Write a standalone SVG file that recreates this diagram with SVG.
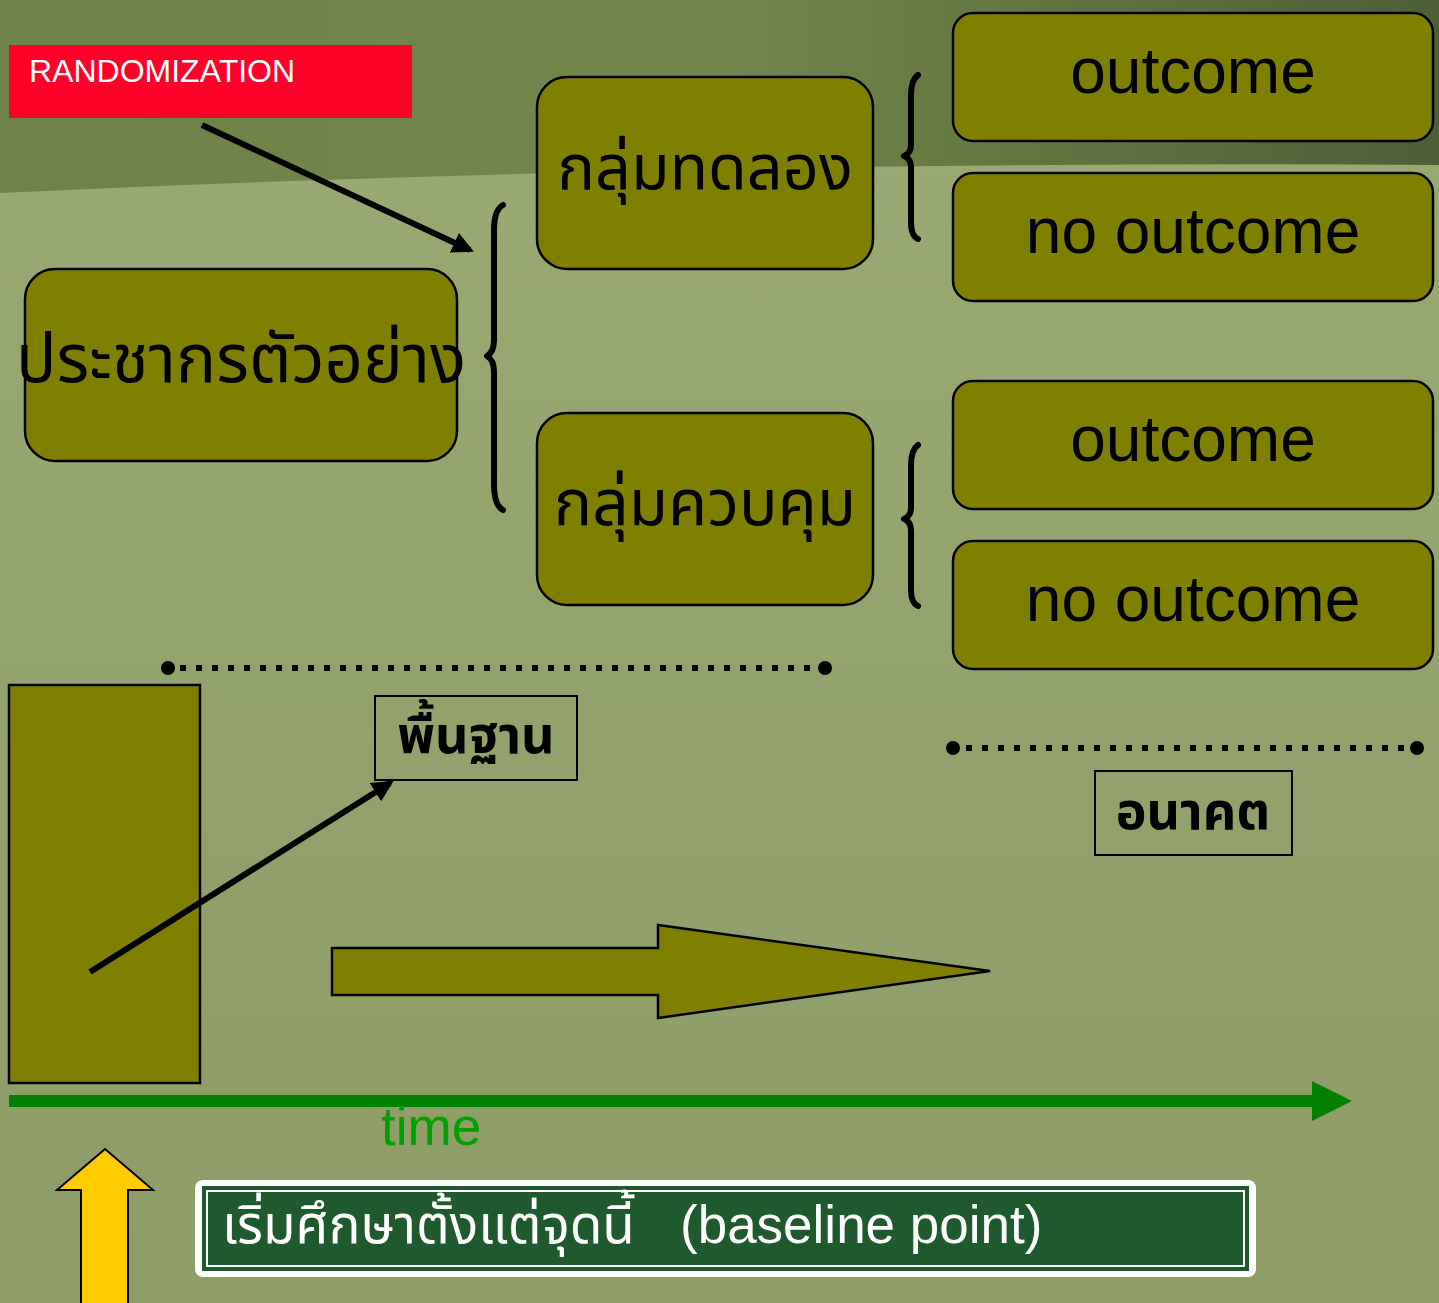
<svg xmlns="http://www.w3.org/2000/svg" width="1439" height="1303" viewBox="0 0 1439 1303">
<defs>
<linearGradient id="topg" x1="0" y1="0" x2="1" y2="0">
<stop offset="0" stop-color="#6f8248"/>
<stop offset="0.5" stop-color="#72874a"/>
<stop offset="1" stop-color="#4d5f35"/>
</linearGradient>
<linearGradient id="botg" x1="0" y1="0" x2="0" y2="1">
<stop offset="0" stop-color="#9aab72"/>
<stop offset="1" stop-color="#8e9c68"/>
</linearGradient>
<marker id="ah" viewBox="0 0 10 10" refX="8" refY="5" markerWidth="3.6" markerHeight="3.6" orient="auto" markerUnits="strokeWidth">
<path d="M0,0 L10,5 L0,10 z" fill="#000"/>
</marker>
<style>
.node{fill:#808000;stroke:#000;stroke-width:2.5}
.th{font-family:"Noto Sans Thai","Tahoma","Liberation Sans","DejaVu Sans",sans-serif;fill:#000}
.en{font-family:"Liberation Sans",Arial,sans-serif;fill:#000}
.brace{fill:none;stroke:#000;stroke-width:6;stroke-linecap:round;stroke-linejoin:round}
.dots{stroke:#000;stroke-width:6;stroke-dasharray:6 10;fill:none}
.lbl{fill:none;stroke:#000;stroke-width:2}
.conn{stroke:#000;stroke-width:6;fill:none}
</style>
</defs>
<g id="background">
<rect x="0" y="0" width="1439" height="1303" fill="url(#botg)"/>
<path d="M0,0 H1439 V165 Q700,160 0,193 Z" fill="url(#topg)"/>
</g>
<g id="randomization">
<rect x="9" y="45" width="403" height="73" fill="#ff0029"/>
<text x="29" y="82" class="en" font-size="32" style="fill:#fff">RANDOMIZATION</text>
</g>
<g id="sample">
<rect class="node" x="25" y="269" width="432" height="192" rx="30"/>
<text class="th" x="241" y="382" font-size="67" text-anchor="middle">ประชากรตัวอย่าง</text>
</g>
<g id="experiment">
<rect class="node" x="537" y="77" width="336" height="192" rx="30"/>
<text class="th" x="705" y="189" font-size="63" text-anchor="middle">กลุ่มทดลอง</text>
</g>
<g id="control">
<rect class="node" x="537" y="413" width="336" height="192" rx="30"/>
<text class="th" x="705" y="525" font-size="64" text-anchor="middle">กลุ่มควบคุม</text>
</g>
<g id="outcome1">
<rect class="node" x="953" y="13" width="480" height="128" rx="20"/>
<text class="en" x="1193" y="93" font-size="64" text-anchor="middle">outcome</text>
</g>
<g id="nooutcome1">
<rect class="node" x="953" y="173" width="480" height="128" rx="20"/>
<text class="en" x="1193" y="253" font-size="64" text-anchor="middle">no outcome</text>
</g>
<g id="outcome2">
<rect class="node" x="953" y="381" width="480" height="128" rx="20"/>
<text class="en" x="1193" y="461" font-size="64" text-anchor="middle">outcome</text>
</g>
<g id="nooutcome2">
<rect class="node" x="953" y="541" width="480" height="128" rx="20"/>
<text class="en" x="1193" y="621" font-size="64" text-anchor="middle">no outcome</text>
</g>
<g id="braces">
<path class="brace" d="M503,205 Q494,210 494,230 V340 Q494,352 487,356 Q494,360 494,372 V485 Q494,505 503,510"/>
<path class="brace" d="M918,75 Q911,80 911,95 V145 Q911,153 904,156 Q911,159 911,167 V222 Q911,236 918,239"/>
<path class="brace" d="M918,445 Q911,450 911,465 V508 Q911,516 904,519 Q911,522 911,530 V590 Q911,603 918,606"/>
</g>
<g id="timeline-marks">
<line class="dots" x1="180" y1="668" x2="818" y2="668"/>
<circle cx="168" cy="668" r="7"/>
<circle cx="825" cy="668" r="7"/>
<line class="dots" x1="966" y1="748" x2="1410" y2="748"/>
<circle cx="953" cy="748" r="7"/>
<circle cx="1417" cy="748" r="7"/>
</g>
<g id="baseline-label">
<rect class="lbl" x="375" y="696" width="202" height="84"/>
<text class="th" x="476" y="753" font-size="52" font-weight="bold" text-anchor="middle">พื้นฐาน</text>
</g>
<g id="future-label">
<rect class="lbl" x="1095" y="771" width="197" height="84"/>
<text class="th" x="1193" y="829" font-size="52" font-weight="bold" text-anchor="middle">อนาคต</text>
</g>
<g id="baseline-block">
<rect x="9" y="685" width="191" height="398" fill="#808000" stroke="#000" stroke-width="2.5"/>
</g>
<g id="block-arrow">
<polygon points="332,948 658,948 658,925 990,971 658,1018 658,995 332,995" fill="#808000" stroke="#000" stroke-width="2.5"/>
</g>
<g id="connectors">
<line class="conn" x1="202" y1="125" x2="470" y2="250" marker-end="url(#ah)"/>
<line class="conn" x1="90" y1="972" x2="390" y2="783" marker-end="url(#ah)"/>
</g>
<g id="time-axis">
<line x1="9" y1="1101" x2="1318" y2="1101" stroke="#008000" stroke-width="12"/>
<polygon points="1312,1081 1352,1101 1312,1121" fill="#008000"/>
<text x="381" y="1145" font-family="Liberation Sans, Arial, sans-serif" font-size="53" fill="#00a000">time</text>
</g>
<g id="start-arrow">
<polygon points="105,1149 153,1190 128,1190 128,1310 81,1310 81,1190 57,1190" fill="#ffcc00" stroke="#000" stroke-width="2"/>
</g>
<g id="start-note">
<rect x="195" y="1180" width="1061" height="97" rx="8" fill="#fff"/>
<rect x="202" y="1186" width="1047" height="85" fill="#1e5a2d"/>
<rect x="207" y="1191" width="1037" height="75" fill="none" stroke="#fff" stroke-width="2"/>
<text class="th" x="222" y="1243" font-size="53" style="fill:#fff" xml:space="preserve">เริ่มศึกษาตั้งแต่จุดนี้<tspan x="680" font-family="Liberation Sans, Arial, sans-serif">(baseline point)</tspan></text>
</g>
</svg>
